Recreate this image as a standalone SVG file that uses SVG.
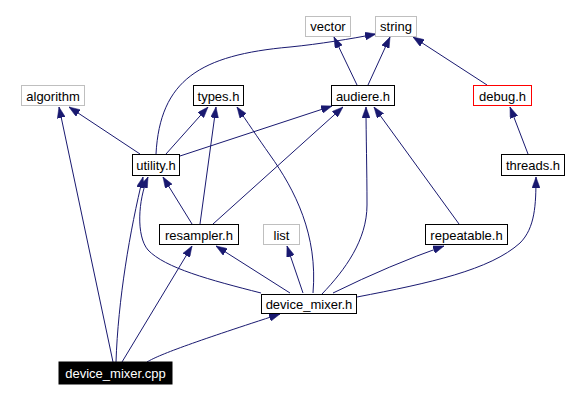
<svg xmlns="http://www.w3.org/2000/svg" width="571" height="401" viewBox="0 0 571 401">
<style>
.n rect{fill:#fff;stroke:#000;stroke-width:1}
.n.g rect{stroke:#bfbfbf}
.n.b rect{fill:#000;stroke:#000}
rect.dbg{fill:#fff;stroke:#ff0000;stroke-width:1}
.n text,.t{font-family:"Liberation Sans",Arial,sans-serif;font-size:13px;text-anchor:middle;fill:#000}
.n.b text{fill:#fff}
.e path{fill:none;stroke:#191970;stroke-width:1;marker-end:url(#a)}
</style>
<defs>
<marker id="a" markerUnits="userSpaceOnUse" markerWidth="11" markerHeight="8" refX="11" refY="4" orient="auto" viewBox="0 0 11 8">
<path d="M0,0 L11,4 L0,8 z" fill="#191970" stroke="#191970" stroke-width="0.5"/>
</marker>
</defs>
<rect width="571" height="401" fill="#fff"/>
<g id="edges" class="e">
<path d="M140,154 L69,107"/>
<path d="M166,154 L208,107"/>
<path d="M180,156 L332,106"/>
<path d="M156,154 C160,80 200,55 290,47 C320,44 350,39 376,34"/>
<path d="M357,85 L334,37"/>
<path d="M368,85 L390,37"/>
<path d="M487,85 L413,37"/>
<path d="M528,154 L510,107"/>
<path d="M192,224 L163,177"/>
<path d="M200,224 L216,107"/>
<path d="M213,224 L343,107"/>
<path d="M290,293 L216,246"/>
<path d="M303,293 L287,246"/>
<path d="M261,293 C210,280 165,268 148,250 C136,236 138,200 148,177"/>
<path d="M313,293 C318,235 295,190 270,155 C258,138 246,120 237,107"/>
<path d="M322,294 C345,270 367,240 367,205 C367,170 366,135 366,107"/>
<path d="M333,293 Q390,265 444,246"/>
<path d="M357,297 C430,283 490,270 520,243 C535,228 536,205 536,177"/>
<path d="M459,224 L374,107"/>
<path d="M113,362 L59,107"/>
<path d="M116,362 C118,300 130,230 143,177"/>
<path d="M122,362 L192,246"/>
<path d="M147,362 C160,354 200,340 280,314"/>
</g>
<g id="vector" class="n g"><rect x="305.5" y="16.5" width="45" height="20"/><text x="328" y="31">vector</text></g>
<g id="string" class="n g"><rect x="375.5" y="16.5" width="41" height="20"/><text x="396" y="31">string</text></g>
<g id="algorithm" class="n g"><rect x="21.5" y="85.5" width="63" height="20"/><text x="53" y="100.5">algorithm</text></g>
<g id="types_h" class="n"><rect x="193.5" y="85.5" width="50" height="20"/><text x="218.5" y="100.5">types.h</text></g>
<g id="audiere_h" class="n"><rect x="331.5" y="85.5" width="63" height="20"/><text x="363" y="100.5">audiere.h</text></g>
<g id="debug_h"><rect class="dbg" x="473.5" y="85.5" width="58" height="20"/><text class="t" x="502.5" y="100.5">debug.h</text></g>
<g id="utility_h" class="n"><rect x="132.5" y="154.5" width="47" height="21"/><text x="156" y="170">utility.h</text></g>
<g id="threads_h" class="n"><rect x="501.5" y="154.5" width="63" height="21"/><text x="533" y="170">threads.h</text></g>
<g id="resampler_h" class="n"><rect x="159.5" y="224.5" width="79" height="20"/><text x="199" y="239.5">resampler.h</text></g>
<g id="list" class="n g"><rect x="263.5" y="224.5" width="36" height="20"/><text x="281.5" y="239.5">list</text></g>
<g id="repeatable_h" class="n"><rect x="425.5" y="224.5" width="82" height="20"/><text x="466.5" y="239.5">repeatable.h</text></g>
<g id="device_mixer_h" class="n"><rect x="261.5" y="294.5" width="95" height="19"/><text x="309" y="309">device_mixer.h</text></g>
<g id="device_mixer_cpp" class="n b"><rect x="59" y="362" width="113" height="22"/><text x="115.5" y="377.5">device_mixer.cpp</text></g>
</svg>
